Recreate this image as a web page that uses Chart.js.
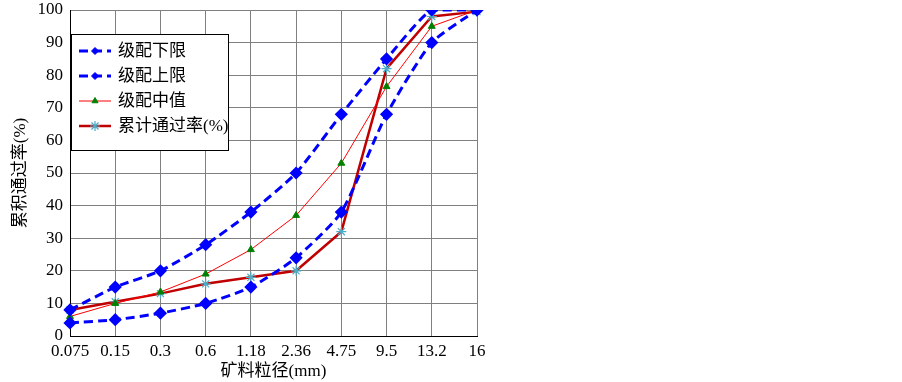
<!DOCTYPE html>
<html><head><meta charset="utf-8">
<script src="https://cdn.jsdelivr.net/npm/chart.js@4"></script>
<style>html,body{margin:0;padding:0;background:#fff}#wrap{width:902px;height:382px}</style>
</head><body><div id="wrap"><canvas id="c" width="902" height="382"></canvas></div>
<script>
const categories = ["0.075","0.15","0.3","0.6","1.18","2.36","4.75","9.5","13.2","16"];
const lowerLimit = [4,5,7,10,15,24,38,68,90,100];
const upperLimit = [8,15,20,28,38,50,68,85,100,100];
const midValue = [6,10,13.5,19,26.5,37,53,76.5,95,100];
const cumulativePassing = [8,10.5,13,16,18,20,32,82,98,99.5];
const seriesNames = ["级配下限","级配上限","级配中值","累计通过率(%)"];
const yTicks = [0,10,20,30,40,50,60,70,80,90,100];

const FONT = "'Liberation Serif','Noto Sans CJK SC',serif";

const legendPlugin = {
  id:'boxLegend',
  afterDraw(chart){
    const ctx=chart.ctx, a=chart.chartArea;
    const x0=a.left+1, y0=34, w=157, h=116;
    ctx.save();
    ctx.fillStyle='#fff'; ctx.fillRect(x0,y0,w,h);
    ctx.strokeStyle='#000'; ctx.lineWidth=1; ctx.strokeRect(x0+0.5,y0+0.5,w,h);
    const rowY=[51,76,101,126];
    chart.data.datasets.forEach((ds,i)=>{
      const y=rowY[i];
      ctx.save();
      ctx.strokeStyle=ds.borderColor; ctx.lineWidth=ds.borderWidth;
      ctx.setLineDash(ds.borderDash||[]);
      ctx.beginPath(); ctx.moveTo(x0+8,y); ctx.lineTo(x0+40,y); ctx.stroke();
      ctx.setLineDash([]);
      ctx.fillStyle=ds.pointBackgroundColor; ctx.strokeStyle=ds.pointBorderColor; ctx.lineWidth=ds.pointBorderWidth||1;
      Chart.helpers.drawPoint(ctx,{pointStyle:ds.pointStyle,radius:ds.legendRadius,rotation:0,borderWidth:ds.pointBorderWidth||1},x0+24,y);
      ctx.restore();
      ctx.fillStyle='#000'; ctx.font="17px "+FONT;
      ctx.textBaseline='middle'; ctx.textAlign='left';
      ctx.fillText(ds.label,x0+47,y+1);
    });
    ctx.restore();
  }
};

new Chart(document.getElementById('c'),{
  type:'line',
  data:{labels:categories,datasets:[
    {label:seriesNames[0],data:lowerLimit,borderColor:'#0000ff',borderWidth:3,borderDash:[9,5],pointStyle:'rectRot',pointRadius:4.5,legendRadius:3.5,pointBackgroundColor:'#0000ff',pointBorderColor:'#0000ff',tension:0.2},
    {label:seriesNames[1],data:upperLimit,borderColor:'#0000ff',borderWidth:3,borderDash:[9,5],pointStyle:'rectRot',pointRadius:4.5,legendRadius:3.5,pointBackgroundColor:'#0000ff',pointBorderColor:'#0000ff',tension:0.2},
    {label:seriesNames[2],data:midValue,borderColor:'#ff0000',borderWidth:1,pointStyle:'triangle',pointRadius:4,legendRadius:3.5,pointBackgroundColor:'#008000',pointBorderColor:'#008000',tension:0},
    {label:seriesNames[3],data:cumulativePassing,borderColor:'#c00000',borderWidth:2.5,pointStyle:'star',pointRadius:5,legendRadius:5,pointBackgroundColor:'#4bacc6',pointBorderColor:'#4bacc6',pointBorderWidth:1.2,tension:0}
  ]},
  options:{
    responsive:false,animation:false,
    layout:{padding:{left:0,top:10,right:425,bottom:0}},
    plugins:{legend:{display:false},tooltip:{enabled:false}},
    scales:{
      x:{offset:false,
        grid:{color:'#808080',drawTicks:false,lineWidth:1},
        border:{color:'#000',width:1},
        ticks:{color:'#000',font:{family:FONT,size:17},padding:5,maxRotation:0,autoSkip:false},
        title:{display:true,text:'矿料粒径(mm)',color:'#000',font:{family:FONT,size:17},padding:{top:0,bottom:0}},
        afterFit(s){s.height=46;s.paddingRight=0;}
      },
      y:{min:0,max:100,
        afterBuildTicks(s){s.ticks=yTicks.map(v=>({value:v}));},
        grid:{color:'#808080',drawTicks:false},
        border:{color:'#000',width:1},
        ticks:{color:'#000',font:{family:FONT,size:17},padding:7},
        title:{display:true,text:'累积通过率(%)',color:'#000',font:{family:FONT,size:17},padding:{top:10,bottom:0}},
        afterFit(s){s.width=70;s.paddingTop=0;s.paddingBottom=0;}
      }
    }
  },
  plugins:[legendPlugin]
});
</script></body></html>
